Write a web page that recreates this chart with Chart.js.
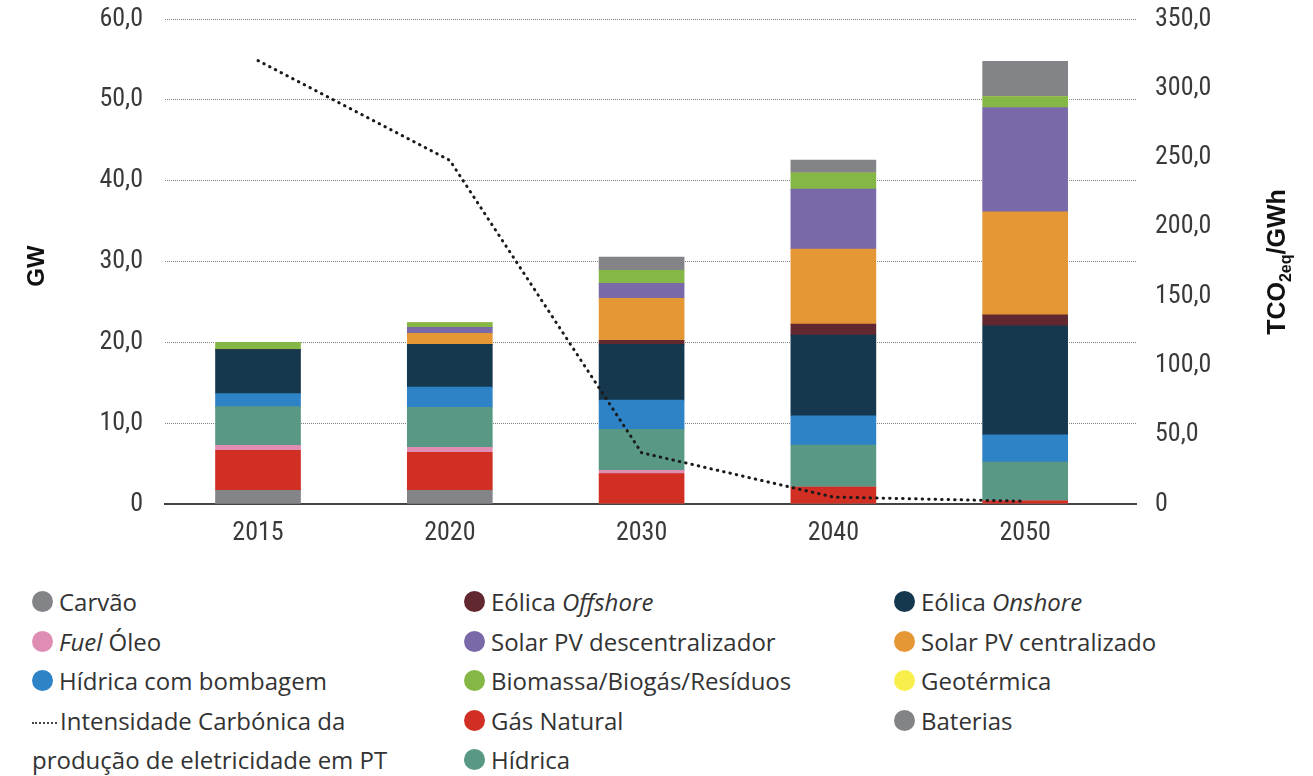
<!DOCTYPE html>
<html>
<head>
<meta charset="utf-8">
<script src="https://cdn.jsdelivr.net/npm/chart.js@4.4.1/dist/chart.umd.min.js"></script>
<style>
  html, body { margin: 0; padding: 0; background: #fff; }
  #wrap { position: relative; width: 1313px; height: 776px; overflow: hidden; }
  #chartBox { position: absolute; left: 0; top: 0; width: 1313px; height: 570px; }
  #legend { position: absolute; left: 0; top: 582px; width: 1313px;
            font-family: 'Open Sans', sans-serif; font-size: 24px; color: #333; }
  .col { position: absolute; top: 0; }
  .item { height: 39.5px; line-height: 39.5px; display: flex; align-items: center; white-space: nowrap; }
  .dot { width: 21px; height: 21px; border-radius: 50%; margin-right: 6px; flex: none; }
  .multi { width: 370px; line-height: 39.5px; white-space: normal; }
  .dots { display: inline-block; width: 25px; height: 0; border-top: 2px dotted #444;
          vertical-align: middle; margin-right: 3px; }
</style>
</head>
<body>
<div id="wrap">
  <div id="chartBox"><canvas id="chart"></canvas></div>
  <div id="legend"></div>
</div>
<script>
// Installed capacity (GW) by technology, per year
const years = ['2015', '2020', '2030', '2040', '2050'];
const carvao               = [1.7, 1.7, 0, 0, 0];
const gasNatural           = [4.95, 4.7, 3.75, 2.1, 0.4];
const fuelOleo             = [0.6, 0.6, 0.4, 0, 0];
const hidrica              = [4.8, 4.95, 5.1, 5.2, 4.8];
const hidricaBombagem      = [1.6, 2.5, 3.6, 3.6, 3.35];
const eolicaOnshore        = [5.45, 5.3, 6.9, 10.0, 13.5];
const eolicaOffshore       = [0, 0, 0.5, 1.35, 1.35];
const solarCentralizado    = [0, 1.35, 5.2, 9.3, 12.75];
const solarDescentralizado = [0, 0.75, 1.85, 7.4, 12.9];
const biomassa             = [0.9, 0.6, 1.6, 2.0, 1.35];
const geotermica           = [0, 0, 0, 0, 0];
const baterias             = [0, 0, 1.65, 1.6, 4.35];
// Carbon intensity of electricity production (tCO2eq/GWh)
const intensidadeCarbonica = [320, 248, 37, 5, 2];

const leftTicks = [0, 10, 20, 30, 40, 50, 60];
const rightTicks = [0, 50, 100, 150, 200, 250, 300, 350];

const lineLabel = 'Intensidade Carbónica da produção de eletricidade em PT';
const italicWords = ['Offshore', 'Onshore', 'Fuel'];

const series = [
  { label: 'Carvão', data: carvao, color: '#838487' },
  { label: 'Gás Natural', data: gasNatural, color: '#d12f24' },
  { label: 'Fuel Óleo', data: fuelOleo, color: '#e08db3' },
  { label: 'Hídrica', data: hidrica, color: '#599885' },
  { label: 'Hídrica com bombagem', data: hidricaBombagem, color: '#2e82c6' },
  { label: 'Eólica Onshore', data: eolicaOnshore, color: '#15384e' },
  { label: 'Eólica Offshore', data: eolicaOffshore, color: '#622830' },
  { label: 'Solar PV centralizado', data: solarCentralizado, color: '#e59736' },
  { label: 'Solar PV descentralizador', data: solarDescentralizado, color: '#7a69a8' },
  { label: 'Biomassa/Biogás/Resíduos', data: biomassa, color: '#84b746' },
  { label: 'Geotérmica', data: geotermica, color: '#f8ee4c' },
  { label: 'Baterias', data: baterias, color: '#838487' }
];

// legend columns, read top to bottom
const legendColumns = [
  ['Carvão', 'Fuel Óleo', 'Hídrica com bombagem', lineLabel],
  ['Eólica Offshore', 'Solar PV descentralizador', 'Biomassa/Biogás/Resíduos', 'Gás Natural', 'Hídrica'],
  ['Eólica Onshore', 'Solar PV centralizado', 'Geotérmica', 'Baterias']
];
const legendColumnX = [32, 464, 894];

const tickFont = { family: "'Liberation Sans Narrow', 'Roboto Condensed', 'DejaVu Sans Condensed', Roboto, sans-serif", size: 26 };
const tickColor = '#3a3a3a';
const fmt = v => v === 0 ? '0' : v.toFixed(1).replace('.', ',');

const toPoints = arr => arr.map((v, i) => ({ x: i, y: v }));

const datasets = series.map(s => ({
  type: 'bar',
  label: s.label,
  data: toPoints(s.data),
  backgroundColor: s.color,
  borderWidth: 0,
  barThickness: 85,
  yAxisID: 'y',
  order: 1
}));
datasets.push({
  type: 'line',
  label: lineLabel,
  data: toPoints(intensidadeCarbonica),
  yAxisID: 'y2',
  borderColor: '#1a1a1a',
  borderWidth: 3,
  borderDash: [0.5, 6],
  borderCapStyle: 'round',
  pointRadius: 0,
  tension: 0,
  fill: false,
  order: 0
});

const axisTitles = {
  id: 'axisTitles',
  afterDraw(chart) {
    const ctx = chart.ctx;
    ctx.save();
    ctx.fillStyle = '#111';
    // left title
    ctx.translate(37, 266);
    ctx.rotate(-Math.PI / 2);
    ctx.font = "bold 24px 'Liberation Sans', Arial, sans-serif";
    ctx.textAlign = 'center';
    ctx.textBaseline = 'middle';
    ctx.fillText('GW', 0, 0);
    ctx.restore();

    // right title with subscript
    ctx.save();
    ctx.fillStyle = '#111';
    ctx.translate(1276, 262);
    ctx.rotate(-Math.PI / 2);
    const mainF = "bold 25px 'Liberation Sans', Arial, sans-serif";
    const subF = "bold 16px 'Liberation Sans', Arial, sans-serif";
    const parts = [
      { t: 'TCO', f: mainF, dy: 0 },
      { t: '2eq', f: subF, dy: 6 },
      { t: '/GWh', f: mainF, dy: 0 }
    ];
    let total = 0;
    parts.forEach(p => { ctx.font = p.f; p.w = ctx.measureText(p.t).width; total += p.w; });
    let x = -total / 2;
    ctx.textAlign = 'left';
    ctx.textBaseline = 'alphabetic';
    parts.forEach(p => { ctx.font = p.f; ctx.fillText(p.t, x, 9 + p.dy); x += p.w; });
    ctx.restore();
  }
};

const noPad = s => { s.paddingTop = 0; s.paddingBottom = 0; };

const chart = new Chart(document.getElementById('chart'), {
  data: { datasets },
  options: {
    responsive: true,
    maintainAspectRatio: false,
    animation: false,
    layout: { padding: { top: 19, left: 0, right: 0, bottom: 0 } },
    plugins: { legend: { display: false }, tooltip: { enabled: false } },
    scales: {
      x: {
        type: 'linear',
        offset: false,
        min: -0.485,
        max: 4.578,
        stacked: true,
        grid: { display: false, drawTicks: false },
        border: { display: true, color: '#444', width: 2 },
        ticks: {
          stepSize: 1,
          includeBounds: false,
          autoSkip: false,
          maxRotation: 0,
          padding: 14,
          color: tickColor,
          font: tickFont,
          callback: v => (Number.isInteger(v) && years[v] !== undefined) ? years[v] : ''
        },
        afterFit: s => { s.height = 66; s.paddingLeft = 0; s.paddingRight = 0; }
      },
      y: {
        position: 'left',
        stacked: true,
        min: leftTicks[0],
        max: leftTicks[leftTicks.length - 1],
        grid: { color: '#808080', lineWidth: 1, drawTicks: false },
        border: { display: false, dash: [1, 1] },
        afterBuildTicks: s => { s.ticks = leftTicks.map(v => ({ value: v })); },
        ticks: { padding: 22, color: tickColor, font: tickFont, callback: v => fmt(v) },
        afterFit: s => { s.width = 165; noPad(s); }
      },
      y2: {
        position: 'right',
        stacked: false,
        min: rightTicks[0],
        max: rightTicks[rightTicks.length - 1],
        grid: { display: false, drawTicks: false },
        border: { display: false },
        afterBuildTicks: s => { s.ticks = rightTicks.map(v => ({ value: v })); },
        ticks: { padding: 19, color: tickColor, font: tickFont, callback: v => fmt(v) },
        afterFit: s => { s.width = 177; noPad(s); }
      }
    }
  },
  plugins: [axisTitles]
});

// HTML legend built from the chart datasets
function labelHtml(text) {
  return text.split(' ').map(w => italicWords.includes(w) ? '<i>' + w + '</i>' : w).join(' ');
}
const legendEl = document.getElementById('legend');
legendColumns.forEach((col, ci) => {
  const colEl = document.createElement('div');
  colEl.className = 'col';
  colEl.style.left = legendColumnX[ci] + 'px';
  col.forEach(name => {
    const ds = chart.data.datasets.find(d => d.label === name);
    if (ds.type === 'line') {
      const el = document.createElement('div');
      el.className = 'multi';
      el.innerHTML = '<span class="dots"></span>' + labelHtml(ds.label);
      colEl.appendChild(el);
    } else {
      const el = document.createElement('div');
      el.className = 'item';
      el.innerHTML = '<span class="dot" style="background:' + ds.backgroundColor + '"></span><span>' + labelHtml(ds.label) + '</span>';
      colEl.appendChild(el);
    }
  });
  legendEl.appendChild(colEl);
});
</script>
</body>
</html>
